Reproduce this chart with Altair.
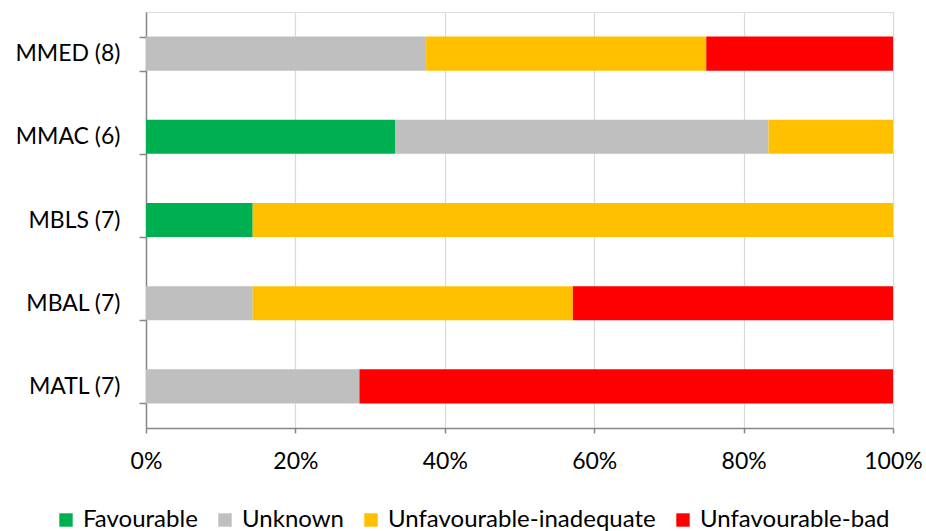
import altair as alt
import pandas as pd

# Regional assessment counts per conservation status
regions = ["MMED (8)", "MMAC (6)", "MBLS (7)", "MBAL (7)", "MATL (7)"]
statuses = ["Favourable", "Unknown", "Unfavourable-inadequate", "Unfavourable-bad"]
colors = ["#00B050", "#BFBFBF", "#FFC000", "#FF0000"]

favourable = [0, 2, 1, 0, 0]
unknown = [3, 3, 0, 1, 2]
inadequate = [3, 1, 6, 3, 0]
bad = [2, 0, 0, 3, 5]

rows = []
for i, reg in enumerate(regions):
    for k, (status, vals) in enumerate(zip(statuses, [favourable, unknown, inadequate, bad])):
        rows.append({"region": reg, "status": status, "count": vals[i], "order": k})
df = pd.DataFrame(rows)

FONT = "Lato"

chart = alt.Chart(df).mark_bar().encode(
    y=alt.Y(
        "region:N",
        sort=regions,
        scale=alt.Scale(paddingInner=0.59, paddingOuter=0.295),
        axis=alt.Axis(
            title=None,
            tickBand="extent",
            tickSize=7,
            labelPadding=19,
            labelFontSize=23,
            labelFont=FONT,
            labelColor="#000000",
            domainColor="#868686",
            tickColor="#868686",
            domainWidth=1.5,
            tickWidth=1.5,
            grid=False,
        ),
    ),
    x=alt.X(
        "count:Q",
        stack="normalize",
        scale=alt.Scale(domain=[0, 1], nice=False),
        axis=alt.Axis(
            title=None,
            format="%",
            values=[0, 0.2, 0.4, 0.6, 0.8, 1.0],
            tickSize=5,
            labelPadding=17,
            labelFlush=False,
            labelFontSize=23,
            labelFont=FONT,
            labelColor="#000000",
            domainColor="#868686",
            tickColor="#868686",
            domainWidth=1.5,
            tickWidth=1.5,
            grid=True,
            gridColor="#D9D9D9",
            gridWidth=1.2,
        ),
    ),
    color=alt.Color(
        "status:N",
        sort=statuses,
        scale=alt.Scale(domain=statuses, range=colors),
        legend=alt.Legend(
            title=None,
            orient="none",
            direction="horizontal",
            legendX=-92,
            legendY=496,
            symbolType="square",
            symbolSize=180,
            symbolStrokeWidth=0,
            labelFontSize=24,
            labelFont=FONT,
            labelColor="#000000",
            labelOffset=5,
            labelLimit=500,
            columnPadding=15,
        ),
    ),
    order=alt.Order("order:Q"),
).properties(
    width=747,
    height=416,
    padding={"left": 146, "top": 12, "right": 33, "bottom": 103},
    autosize=alt.AutoSizeParams(type="none"),
).configure_view(stroke=None).configure(background="white")

chart.save("out.html", embed_options={"renderer": "svg", "actions": False})
